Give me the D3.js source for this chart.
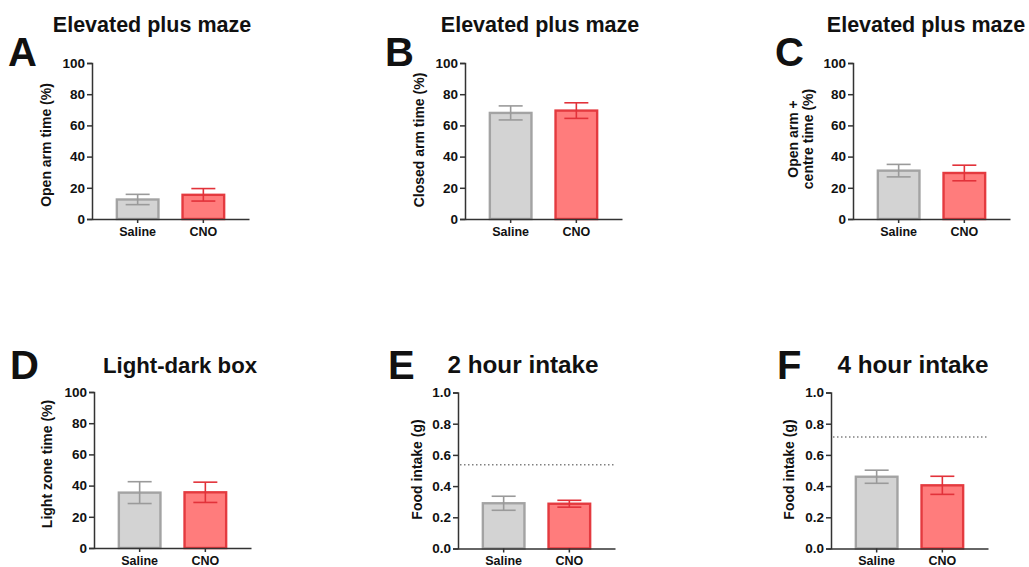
<!DOCTYPE html>
<html>
<head>
<meta charset="utf-8">
<script src="https://cdn.jsdelivr.net/npm/d3@7"></script>
<style>
  html, body { margin: 0; padding: 0; background: #fff; }
  svg { display: block; }
  text { font-family: "Liberation Sans", Arial, sans-serif; font-weight: bold; fill: #111; }
</style>
</head>
<body>
<svg id="chart" width="1029" height="567"></svg>
<script>
// ---- data ----
const groups = ["Saline", "CNO"];
const panelLetters = ["A", "B", "C", "D", "E", "F"];
const panelTitles = ["Elevated plus maze", "Elevated plus maze", "Elevated plus maze",
                     "Light-dark box", "2 hour intake", "4 hour intake"];
const yLabels = [["Open arm time (%)"], ["Closed arm time (%)"], ["Open arm +", "centre time (%)"],
                 ["Light zone time (%)"], ["Food intake (g)"], ["Food intake (g)"]];
const salineMeans = [12.5, 68, 31, 35.5, 0.29, 0.46];
const salineSEM   = [3.3, 4.5, 4.0, 7.0, 0.045, 0.042];
const cnoMeans    = [15.5, 69.5, 29.5, 35.7, 0.287, 0.405];
const cnoSEM      = [4.0, 5.0, 5.0, 6.5, 0.022, 0.058];
const yMaxes      = [100, 100, 100, 100, 1.0, 1.0];
const pctTicks    = [0, 20, 40, 60, 80, 100];
const gramTicks   = [0, 0.2, 0.4, 0.6, 0.8, 1.0];
const referenceLines = [null, null, null, null, 0.537, 0.715];

// ---- layout ----
const layout = [
  { ax: 92,  top: 63,    bottom: 219,   letterX: 8,   letterY: 66,  titleX: 152, titleY: 32,  titleSize: 21.5, labelDx: 46, yLabelDy: 4 },
  { ax: 465, top: 63,    bottom: 219,   letterX: 385, letterY: 66,  titleX: 540, titleY: 32,  titleSize: 21.5, labelDx: 46, yLabelDy: -1 },
  { ax: 853, top: 63,    bottom: 219,   letterX: 775, letterY: 66,  titleX: 926, titleY: 32,  titleSize: 21.5, labelDx: 45, yLabelDy: -2 },
  { ax: 94,  top: 392,   bottom: 548,   letterX: 10,  letterY: 379, titleX: 180, titleY: 373, titleSize: 22.2, labelDx: 47, yLabelDy: -6 },
  { ax: 458, top: 392.5, bottom: 548.5, letterX: 388, letterY: 379, titleX: 523, titleY: 373, titleSize: 24.3, labelDx: 41, yLabelDy: -1 },
  { ax: 831, top: 392.5, bottom: 548.5, letterX: 777, letterY: 379, titleX: 913, titleY: 373, titleSize: 24.3, labelDx: 42, yLabelDy: -1 }
];
const plotW = 157;
const fills   = { Saline: "#d3d3d3", CNO: "#ff7c7c" };
const strokes = { Saline: "#a3a3a3", CNO: "#e43a3f" };
const errCol  = { Saline: "#9a9a9a", CNO: "#e2323a" };

const svg = d3.select("#chart");

panelLetters.forEach((letter, i) => {
  const L = layout[i];
  const g = svg.append("g").attr("transform", `translate(${L.ax},0)`);
  const y = d3.scaleLinear().domain([0, yMaxes[i]]).range([L.bottom, L.top]);
  const x = d3.scaleBand().domain(groups).range([0, plotW]).paddingInner(0.33).paddingOuter(0.36);

  const data = groups.map((k, j) => ({
    key: k,
    mean: j === 0 ? salineMeans[i] : cnoMeans[i],
    sem:  j === 0 ? salineSEM[i]   : cnoSEM[i]
  }));

  // reference dotted line
  if (referenceLines[i] !== null) {
    g.append("line")
      .attr("x1", 2).attr("x2", plotW)
      .attr("y1", y(referenceLines[i])).attr("y2", y(referenceLines[i]))
      .attr("stroke", "#808080").attr("stroke-width", 1.5)
      .attr("stroke-dasharray", "1.5,2.5");
  }

  // bars
  g.selectAll("rect.bar").data(data).join("rect")
    .attr("class", "bar")
    .attr("x", d => x(d.key) + 1.2)
    .attr("width", x.bandwidth() - 2.4)
    .attr("y", d => y(d.mean))
    .attr("height", d => y(0) - y(d.mean))
    .attr("fill", d => fills[d.key])
    .attr("stroke", d => strokes[d.key])
    .attr("stroke-width", 2.4);

  // error bars
  const capW = 24;
  data.forEach(d => {
    const cx = x(d.key) + x.bandwidth() / 2;
    const eg = g.append("g").attr("stroke", errCol[d.key]).attr("stroke-width", 1.6);
    eg.append("line").attr("x1", cx).attr("x2", cx).attr("y1", y(d.mean + d.sem)).attr("y2", y(d.mean - d.sem));
    eg.append("line").attr("x1", cx - capW / 2).attr("x2", cx + capW / 2).attr("y1", y(d.mean + d.sem)).attr("y2", y(d.mean + d.sem));
    eg.append("line").attr("x1", cx - capW / 2).attr("x2", cx + capW / 2).attr("y1", y(d.mean - d.sem)).attr("y2", y(d.mean - d.sem));
  });

  // y axis
  const ticks = yMaxes[i] > 1 ? pctTicks : gramTicks;
  const yAxis = d3.axisLeft(y).tickValues(ticks).tickSize(5).tickPadding(2)
    .tickFormat(yMaxes[i] > 1 ? d3.format("d") : d3.format(".1f"));
  const ya = g.append("g").call(yAxis);
  ya.select(".domain").attr("stroke", "#333").attr("stroke-width", 1.5);
  ya.selectAll(".tick line").attr("stroke", "#333").attr("stroke-width", 1.5);
  ya.selectAll(".tick text").attr("font-size", 13.5).attr("font-family", "Liberation Sans, Arial, sans-serif").attr("font-weight", "bold").attr("fill", "#1a1a1a");

  // x axis
  const xAxis = d3.axisBottom(x).tickSize(4).tickPadding(4).tickSizeOuter(0);
  const xa = g.append("g").attr("transform", `translate(0,${L.bottom})`).call(xAxis);
  xa.select(".domain").attr("stroke", "#333").attr("stroke-width", 1.5);
  xa.selectAll(".tick line").attr("stroke", "#333").attr("stroke-width", 1.5);
  xa.selectAll(".tick text").attr("font-size", 12.5).attr("font-family", "Liberation Sans, Arial, sans-serif").attr("font-weight", "bold").attr("fill", "#1a1a1a");

  // y label
  const lines = yLabels[i];
  const cy = (L.top + L.bottom) / 2 + L.yLabelDy;
  const lab = g.append("text")
    .attr("transform", `translate(${-L.labelDx},${cy}) rotate(-90)`)
    .attr("text-anchor", "middle")
    .attr("font-size", 14);
  lines.forEach((t, k) => {
    lab.append("tspan").attr("x", 0)
      .attr("dy", k === 0 ? (lines.length > 1 ? -15 * (lines.length - 1) + 5 : 5) : 15)
      .text(t);
  });

  // panel letter
  svg.append("text").attr("x", L.letterX).attr("y", L.letterY)
    .attr("font-size", 40).text(letter);

  // title
  svg.append("text").attr("x", L.titleX).attr("y", L.titleY)
    .attr("text-anchor", "middle").attr("font-size", L.titleSize).text(panelTitles[i]);
});
</script>
</body>
</html>
